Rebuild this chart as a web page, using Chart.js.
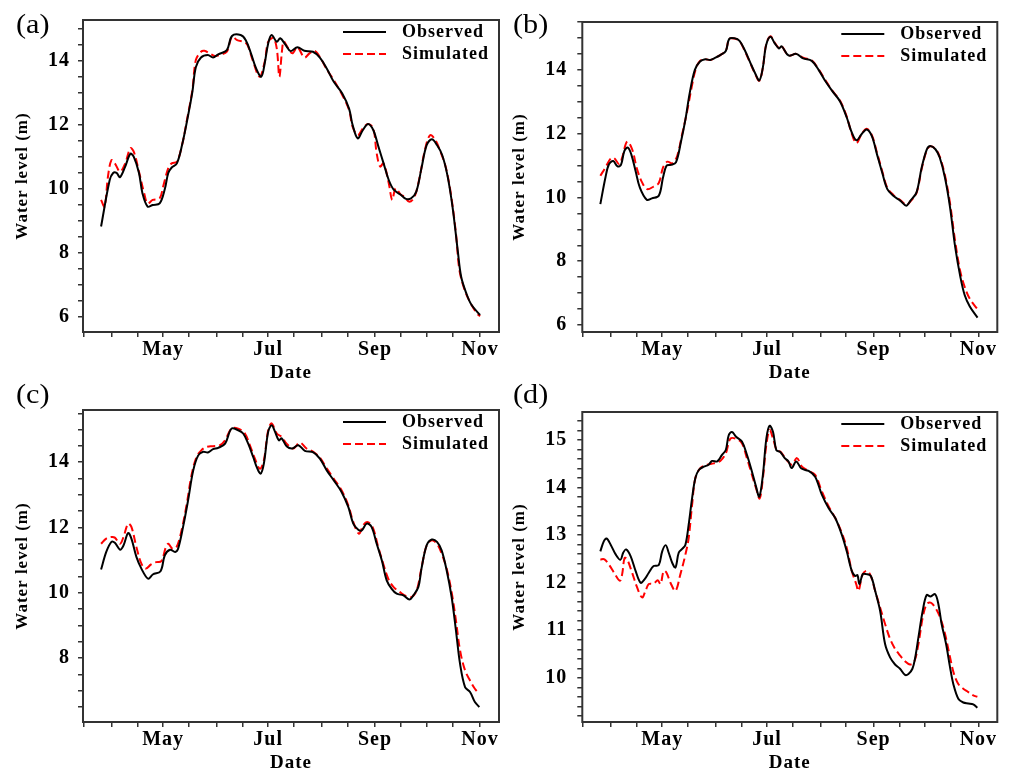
<!DOCTYPE html>
<html>
<head>
<meta charset="utf-8">
<script src="https://cdn.jsdelivr.net/npm/chart.js@4.4.1/dist/chart.umd.min.js"></script>
<style>
  body { margin: 0; background: #fff; width: 1009px; height: 771px; overflow: hidden; position: relative; }
  .panel { position: absolute; }
  .tag { position: absolute; font-family: 'Liberation Serif', serif; font-size: 27px; line-height: 1; color: #000; transform: scaleX(1.12); transform-origin: left top; }
</style>
</head>
<body>
<div class="panel" style="left:0;top:0"><canvas id="chartA" width="505" height="390"></canvas></div>
<div class="panel" style="left:505px;top:0"><canvas id="chartB" width="504" height="390"></canvas></div>
<div class="panel" style="left:0;top:390px"><canvas id="chartC" width="505" height="381"></canvas></div>
<div class="panel" style="left:505px;top:390px"><canvas id="chartD" width="504" height="381"></canvas></div>
<div class="tag" style="left:16px;top:11px">(a)</div>
<div class="tag" style="left:513px;top:11px">(b)</div>
<div class="tag" style="left:16px;top:381px">(c)</div>
<div class="tag" style="left:513px;top:381px">(d)</div>
<script>
// x values are day of year (May 1 = 121, Nov 1 = 305)
const majorDays = [121, 182, 244, 305];
const monthLabels = ['May', 'Jul', 'Sep', 'Nov'];
const minorDays = [75, 91, 106, 136, 152, 167, 197, 213, 228, 259, 274, 289];

// (a)
const obsDaysA = [85, 90, 92, 94, 96, 99, 102, 104, 107, 109, 112, 115, 119, 122, 124, 126, 129, 132, 135, 138, 140, 143, 147, 150, 153, 158, 161, 166, 169, 172, 175, 178, 180, 182, 184, 187, 189, 192, 195, 199, 203, 208, 212, 216, 220, 225, 229, 231, 234, 237, 240, 243, 246, 249, 252, 255, 259, 262, 265, 268, 271, 274, 277, 280, 283, 286, 289, 292, 294, 297, 300, 305];
const obsA = [8.83, 10.28, 10.5, 10.5, 10.37, 10.7, 11.1, 11.0, 10.5, 9.87, 9.45, 9.5, 9.55, 10.0, 10.5, 10.67, 10.8, 11.37, 12.15, 13.03, 13.8, 14.1, 14.18, 14.1, 14.2, 14.33, 14.77, 14.8, 14.64, 14.23, 13.76, 13.5, 13.92, 14.54, 14.8, 14.59, 14.7, 14.5, 14.3, 14.42, 14.31, 14.28, 14.1, 13.76, 13.35, 12.98, 12.5, 12.0, 11.58, 11.84, 12.03, 11.84, 11.32, 10.8, 10.28, 9.97, 9.82, 9.69, 9.71, 9.92, 10.65, 11.37, 11.55, 11.37, 11.06, 10.44, 9.45, 8.1, 7.27, 6.75, 6.39, 6.07];
const simDaysA = [85, 87, 89, 91, 93, 96, 99, 102, 104, 107, 110, 112, 115, 119, 121, 124, 126, 129, 132, 135, 138, 140, 143, 145, 148, 151, 154, 158, 161, 164, 168, 170, 173, 177, 180, 182, 185, 187, 188.5, 190, 191, 193, 196, 199, 203, 206, 209, 212, 216, 220, 225, 229, 231, 234, 237, 240, 243, 245, 247, 249, 252, 254, 256, 259, 261, 264, 267, 270, 273, 276, 279, 282, 285, 288, 291, 293, 296, 299, 303, 305];
const simA = [9.66, 9.45, 10.39, 10.9, 10.8, 10.54, 10.8, 11.27, 11.16, 10.54, 9.87, 9.55, 9.66, 9.71, 10.07, 10.65, 10.8, 10.85, 11.37, 12.2, 13.09, 14.02, 14.28, 14.31, 14.23, 14.15, 14.18, 14.28, 14.75, 14.64, 14.59, 14.49, 14.02, 13.5, 13.97, 14.59, 14.7, 14.38, 13.5, 14.3, 14.6, 14.44, 14.23, 14.42, 14.1, 14.23, 14.31, 14.12, 13.73, 13.4, 12.93, 12.46, 11.94, 11.68, 11.89, 12.03, 11.89, 11.11, 10.7, 10.8, 10.18, 9.66, 10.02, 9.82, 9.76, 9.6, 9.76, 10.39, 11.22, 11.68, 11.53, 11.16, 10.7, 9.87, 8.62, 7.48, 6.86, 6.49, 6.13, 6.03];

// (b)
const obsDaysB = [85, 88, 90, 92.5, 95, 97, 99, 101, 103, 105.5, 108, 112, 115, 119, 121.5, 123.5, 126, 129, 132, 134.5, 137, 140, 143, 146, 149, 152, 155, 158, 160, 163, 166, 169, 172, 175, 177.5, 179.5, 181.5, 184, 186.5, 189, 190.5, 194.5, 199, 203, 208, 212, 216, 220, 224.5, 228.5, 231, 234, 237, 240, 243, 246, 249, 252, 255.5, 259.5, 263, 265.5, 269, 272, 275, 277, 280, 282.5, 285.5, 288.5, 291.5, 294.5, 297, 300, 304.5];
const obsB = [9.79, 10.63, 11.04, 11.14, 10.97, 11.02, 11.46, 11.56, 11.35, 10.83, 10.31, 9.93, 9.97, 10.05, 10.63, 10.99, 11.02, 11.1, 11.77, 12.44, 13.27, 14.0, 14.26, 14.33, 14.31, 14.38, 14.47, 14.59, 14.97, 14.99, 14.91, 14.62, 14.26, 13.9, 13.67, 14.05, 14.78, 15.04, 14.83, 14.67, 14.74, 14.45, 14.5, 14.36, 14.28, 14.0, 13.64, 13.33, 13.01, 12.49, 12.08, 11.79, 11.98, 12.13, 11.92, 11.35, 10.78, 10.26, 10.05, 9.9, 9.74, 9.9, 10.16, 10.94, 11.51, 11.61, 11.51, 11.25, 10.63, 9.69, 8.44, 7.51, 6.94, 6.58, 6.23];
const simDaysB = [85, 88, 91, 93, 96, 97.7, 100.6, 103.5, 106.4, 109.3, 112.2, 116, 119, 121.5, 124, 127, 129.7, 132.6, 135.5, 138.4, 140.5, 143, 146, 149, 152, 155, 158, 160, 163, 166, 169, 172, 175, 177.5, 179.5, 181.5, 184, 186.5, 189, 190.5, 194.5, 199, 203, 208, 212, 216, 220, 224.5, 228.5, 231, 234, 237, 240, 243, 246, 249, 252, 255.5, 259.5, 263, 265.5, 269, 272, 275, 277, 280, 282.5, 285.5, 288.5, 291.4, 294.3, 297, 300, 304.5];
const simB = [10.68, 10.94, 11.22, 11.23, 11.04, 11.25, 11.75, 11.51, 10.88, 10.47, 10.26, 10.34, 10.45, 10.94, 11.12, 11.07, 11.3, 11.98, 12.7, 13.53, 14.02, 14.28, 14.33, 14.31, 14.38, 14.47, 14.6, 14.97, 14.98, 14.9, 14.6, 14.24, 13.88, 13.66, 14.05, 14.8, 15.05, 14.85, 14.68, 14.74, 14.45, 14.5, 14.38, 14.3, 14.02, 13.67, 13.35, 13.03, 12.52, 12.05, 11.7, 11.98, 12.15, 11.95, 11.4, 10.83, 10.3, 10.08, 9.92, 9.77, 9.88, 10.14, 10.9, 11.48, 11.6, 11.52, 11.28, 10.7, 9.81, 8.65, 7.72, 7.2, 6.82, 6.49];

// (c)
const obsDaysC = [85, 88, 91, 93, 96, 98, 100.7, 102.6, 105.5, 108.4, 112.3, 115, 119.5, 122, 125, 128, 129.7, 132.6, 135.5, 138.5, 141.4, 144.3, 147, 150, 153, 157, 160.7, 164.6, 167.5, 170.4, 173.3, 175.3, 177.6, 179.5, 182, 184, 186, 188.2, 189.8, 192.7, 196, 199.5, 203.3, 208.2, 212, 216, 220, 224.6, 228.5, 231.4, 234.3, 236.3, 239.2, 242, 245, 248, 250.8, 253.7, 256.6, 260.5, 264, 266.3, 269.2, 271, 274, 277, 280, 282.7, 285.6, 288.5, 291, 293.4, 296.3, 299.2, 302, 304.6];
const obsC = [10.71, 11.25, 11.56, 11.53, 11.32, 11.45, 11.83, 11.66, 11.1, 10.74, 10.43, 10.56, 10.66, 11.15, 11.32, 11.25, 11.35, 12.02, 12.83, 13.75, 14.21, 14.32, 14.3, 14.4, 14.44, 14.57, 15.03, 14.98, 14.88, 14.57, 14.16, 13.86, 13.65, 13.96, 14.93, 15.13, 14.93, 14.67, 14.73, 14.49, 14.42, 14.52, 14.35, 14.3, 14.11, 13.75, 13.45, 13.09, 12.63, 12.12, 11.93, 11.91, 12.12, 12.02, 11.5, 10.99, 10.38, 10.12, 9.97, 9.92, 9.79, 9.92, 10.18, 10.74, 11.45, 11.63, 11.56, 11.3, 10.69, 9.87, 8.85, 7.82, 7.11, 6.96, 6.65, 6.5];
const simDaysC = [85, 88, 91, 93, 96, 98, 100.7, 102.6, 105.5, 108.4, 111, 114, 117, 120, 122.6, 124, 126.4, 128.8, 131.7, 134.6, 137.5, 140.4, 143.3, 146.2, 150, 154, 157, 160.7, 164.6, 168.5, 171.4, 174.3, 177.2, 179.5, 182, 184, 187, 189.8, 192.7, 196.5, 200.4, 204.3, 208.2, 212, 216, 220, 224.6, 228.5, 231.4, 234.7, 237.2, 239.5, 242.6, 245.9, 248.8, 251.7, 254.7, 258.5, 262.4, 265.3, 268.2, 271.1, 274, 277, 280, 282.7, 285.6, 288.5, 291, 293.4, 296.3, 299.2, 302, 304.6];
const simC = [11.5, 11.66, 11.71, 11.69, 11.5, 11.71, 12.12, 12.02, 11.4, 10.89, 10.74, 10.87, 10.94, 10.97, 11.4, 11.5, 11.35, 11.4, 11.91, 12.68, 13.6, 14.16, 14.37, 14.47, 14.49, 14.52, 14.67, 15.03, 15.03, 14.88, 14.52, 14.11, 13.8, 14.06, 14.98, 15.19, 14.88, 14.78, 14.57, 14.42, 14.6, 14.42, 14.32, 14.14, 13.81, 13.5, 13.14, 12.68, 12.17, 11.81, 12.07, 12.17, 12.02, 11.4, 10.89, 10.43, 10.18, 10.02, 9.89, 9.87, 10.07, 10.79, 11.45, 11.61, 11.5, 11.2, 10.74, 10.02, 9.15, 8.23, 7.62, 7.31, 7.06, 6.9];

// (d)
const obsDaysD = [85, 87, 88.6, 91, 94, 96.7, 98.3, 100, 102.6, 105.5, 108.4, 110.7, 113.2, 116, 119, 121, 123, 124.8, 126.8, 128.7, 130.6, 132.6, 134.5, 136.4, 138.4, 140.3, 142.3, 145.2, 148, 150, 153, 155.8, 158, 159.7, 161.6, 164, 167.4, 170.3, 173.2, 175.6, 177.5, 179.6, 181.6, 183.5, 185.5, 187.4, 189.7, 192.3, 194.5, 196.3, 199, 202, 206.2, 210, 213.9, 217.8, 221.7, 225.5, 228.4, 231.3, 233.3, 234.6, 235.8, 237.7, 239.7, 242.4, 244.9, 247.8, 250.7, 253.6, 256.5, 259.4, 262.3, 264.3, 266.6, 268.1, 270.1, 272.6, 274.9, 277.2, 279.8, 281.7, 283.6, 286.2, 288.5, 290.4, 293.3, 296.2, 299.1, 302, 304.4];
const obsD = [12.66, 12.87, 12.93, 12.8, 12.59, 12.48, 12.63, 12.7, 12.56, 12.25, 12.0, 12.07, 12.21, 12.35, 12.37, 12.66, 12.79, 12.63, 12.42, 12.32, 12.63, 12.71, 12.8, 13.22, 13.78, 14.2, 14.37, 14.44, 14.48, 14.56, 14.55, 14.69, 14.79, 15.1, 15.17, 15.07, 14.97, 14.69, 14.34, 14.02, 13.81, 14.27, 15.03, 15.3, 15.17, 14.79, 14.75, 14.62, 14.55, 14.41, 14.55, 14.4, 14.35, 14.23, 13.85, 13.57, 13.36, 13.01, 12.66, 12.25, 12.14, 12.16, 11.97, 12.18, 12.18, 12.14, 11.83, 11.41, 10.71, 10.43, 10.28, 10.19, 10.06, 10.08, 10.19, 10.4, 10.85, 11.41, 11.74, 11.71, 11.76, 11.55, 11.13, 10.71, 10.22, 9.87, 9.56, 9.48, 9.46, 9.44, 9.37];
const simDaysD = [85, 87.4, 90, 93, 96.4, 97.7, 99.1, 100.6, 103.5, 106.4, 109.3, 111.3, 113.2, 116, 118.4, 120, 121.9, 123.5, 125.8, 128.7, 131.6, 134.5, 136.4, 138.4, 140.3, 143.2, 147, 151, 154.8, 158, 160.7, 164.5, 167.4, 170.3, 173.2, 175.6, 177.7, 179.6, 181.6, 183.5, 185.5, 187.8, 189.7, 193, 196.5, 199.4, 202.3, 206.2, 210, 213.9, 217.8, 221.7, 225.5, 228.4, 231.3, 233.9, 235.2, 237.7, 240.1, 242.4, 244.9, 247.8, 250.7, 253.6, 256.5, 259.4, 262.3, 265.2, 267.6, 270.1, 272.6, 274.9, 277.2, 279.8, 282.7, 285.6, 288.5, 290.8, 293.3, 296.2, 299.1, 302, 304.4];
const simD = [12.49, 12.49, 12.38, 12.21, 12.04, 12.18, 12.52, 12.49, 12.21, 11.9, 11.69, 11.83, 11.97, 11.98, 12.05, 11.97, 12.25, 12.21, 12.0, 11.83, 12.18, 12.59, 12.94, 13.64, 14.2, 14.41, 14.48, 14.51, 14.56, 14.72, 15.03, 15.02, 14.93, 14.62, 14.27, 13.99, 13.77, 14.2, 14.9, 15.21, 15.03, 14.77, 14.76, 14.6, 14.48, 14.62, 14.44, 14.35, 14.27, 13.92, 13.61, 13.36, 13.05, 12.73, 12.25, 11.97, 11.83, 12.18, 12.25, 12.14, 11.83, 11.48, 11.13, 10.82, 10.61, 10.47, 10.35, 10.28, 10.33, 10.71, 11.27, 11.55, 11.58, 11.48, 11.27, 10.92, 10.43, 10.08, 9.87, 9.77, 9.7, 9.63, 9.6];

const serif = "'Liberation Serif', 'Times New Roman', serif";
Chart.defaults.font.family = serif;
Chart.defaults.color = '#000';

const xTickDays = majorDays.concat(minorDays).sort((a, b) => a - b);

const toPoints = (days, vals) => days.map((d, i) => ({ x: d, y: vals[i] }));

// the source figure is a bit stretched sideways, so the type gets a little extra spacing
const spacingPlugin = {
    id: 'spacing',
    beforeDraw(chart) { chart.ctx.letterSpacing = '1px'; }
};

// frame around the plot plus the legend in the upper right corner
const framePlugin = {
    id: 'frame',
    afterDatasetsDraw(chart) {
        const { ctx, chartArea: a } = chart;
        ctx.save();
        ctx.strokeStyle = '#333';
        ctx.lineWidth = 2;
        ctx.strokeRect(a.left, a.top, a.right - a.left, a.bottom - a.top);
        ctx.font = `bold 18px ${serif}`;
        ctx.textBaseline = 'middle';
        chart.data.datasets.forEach((ds, i) => {
            const y = a.top + 12 + i * 22;
            ctx.strokeStyle = ds.borderColor;
            ctx.lineWidth = ds.borderWidth;
            ctx.setLineDash(ds.borderDash || []);
            ctx.beginPath();
            ctx.moveTo(a.right - 156, y);
            ctx.lineTo(a.right - 113, y);
            ctx.stroke();
            ctx.setLineDash([]);
            ctx.fillStyle = '#000';
            ctx.fillText(ds.label, a.right - 97, y);
        });
        ctx.restore();
    }
};

const makeChart = (id, obsDays, obsVals, simDays, simVals, yMin, yMax, yStep, yLabelStep, box) => {
    new Chart(document.getElementById(id), {
        type: 'line',
        data: {
            datasets: [
                { label: 'Observed', data: toPoints(obsDays, obsVals), borderColor: '#000', borderWidth: 2, pointRadius: 0, tension: 0.35 },
                { label: 'Simulated', data: toPoints(simDays, simVals), borderColor: '#ff0000', borderWidth: 2, borderDash: [8, 4], pointRadius: 0, tension: 0.35 }
            ]
        },
        options: {
            responsive: false,
            animation: false,
            devicePixelRatio: 1,
            layout: { padding: { left: 0, top: 20, right: box.right, bottom: 0 } },
            plugins: { legend: { display: false }, tooltip: { enabled: false } },
            scales: {
                x: {
                    type: 'linear', min: 74.5, max: 316,
                    afterBuildTicks: (s) => { s.ticks = xTickDays.map(v => ({ value: v })); },
                    afterFit: (s) => { s.height = box.xh; },
                    ticks: {
                        autoSkip: false, maxRotation: 0, padding: 1, color: '#000',
                        font: { size: 20, weight: 'bold', lineHeight: 1.2 },
                        callback: (v) => { const k = majorDays.indexOf(v); return k >= 0 ? monthLabels[k] : ''; }
                    },
                    grid: { drawOnChartArea: false, tickLength: 5, tickColor: '#333', lineWidth: 1.5 },
                    border: { display: false },
                    title: { display: true, text: 'Date', color: '#000', font: { size: 19, weight: 'bold', lineHeight: 0.8 }, padding: { top: 0, bottom: box.datePad } }
                },
                y: {
                    min: yMin, max: yMax,
                    afterFit: (s) => { s.width = box.yw; },
                    ticks: {
                        stepSize: yStep, autoSkip: false, includeBounds: false, padding: box.yPad, color: '#000',
                        font: { size: 20, weight: 'bold', lineHeight: 1.2 },
                        callback: (v) => Math.abs(v / yLabelStep - Math.round(v / yLabelStep)) < 1e-6 ? String(v) : ''
                    },
                    grid: { drawOnChartArea: false, tickLength: 5, tickColor: '#333', lineWidth: 1.5 },
                    border: { display: false },
                    title: { display: true, text: 'Water level (m)', color: '#000', font: { size: 17, weight: 'bold', lineHeight: 1 }, padding: { top: box.yTitlePad, bottom: 0 } }
                }
            }
        },
        plugins: [spacingPlugin, framePlugin]
    });
};

makeChart('chartA', obsDaysA, obsA, simDaysA, simA, 5.54, 15.27, 0.5, 2, { right: 6, yw: 83, xh: 58, yPad: 8, yTitlePad: 14, datePad: 9.4 });
makeChart('chartB', obsDaysB, obsB, simDaysB, simB, 5.78, 15.5, 0.5, 2, { right: 11.7, yw: 77.3, xh: 58, yPad: 10, yTitlePad: 6, datePad: 9.4 });
makeChart('chartC', obsDaysC, obsC, simDaysC, simC, 6.04, 15.6, 0.5, 2, { right: 6, yw: 83, xh: 49, yPad: 8, yTitlePad: 14, datePad: 0.7 });
makeChart('chartD', obsDaysD, obsD, simDaysD, simD, 9.07, 15.59, 0.2, 1, { right: 11.7, yw: 77.3, xh: 49, yPad: 10, yTitlePad: 6, datePad: 0.7 });
</script>
</body>
</html>
